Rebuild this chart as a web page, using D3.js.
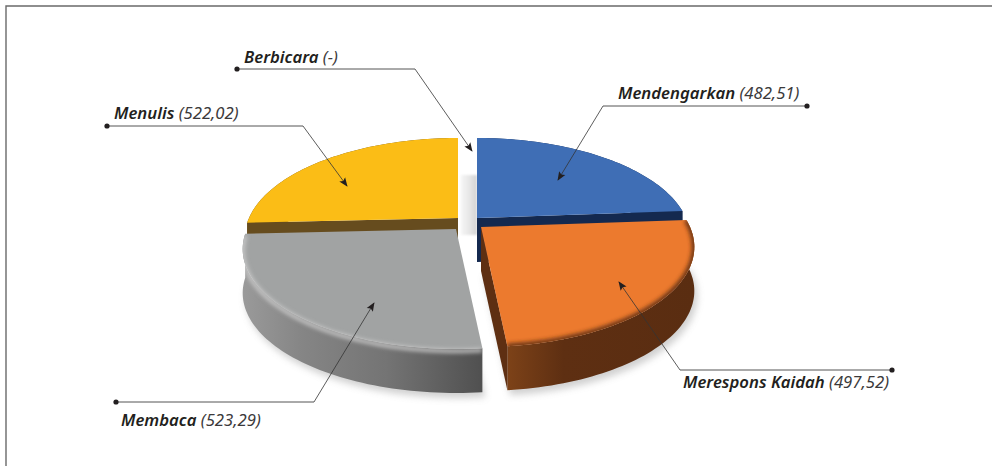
<!DOCTYPE html>
<html>
<head>
<meta charset="utf-8">
<script src="https://cdn.jsdelivr.net/npm/d3@7"></script>
<style>
  html, body { margin: 0; padding: 0; background: #fff; overflow: hidden; }
  text { font-family: "Noto Sans", sans-serif; font-style: italic; font-size: 16.7px; fill: #231f20; }
  .name { font-weight: 600; }
  .val { font-weight: 400; fill: #3c3a3b; }
</style>
</head>
<body>
<svg id="chart" width="992" height="466"></svg>
<script>
const categories = ["Mendengarkan", "Merespons Kaidah", "Membaca", "Menulis", "Berbicara"];
const values = [482.51, 497.52, 523.29, 522.02, 0];
const valueLabels = ["(482,51)", "(497,52)", "(523,29)", "(522,02)", "(-)"];

// look of each slice, same order as categories
const topColors = ["#3f6eb5", "#ec7a2e", "#a1a3a3", "#fbbd16"];
const wallColors = ["#14294f", "#5e2f12", "#6f6f6f", "#664c1e"];
const centers = [[477, 218], [481, 227], [456, 229], [458, 218]];
const drawOrder = [3, 0, 2, 1];

// dot -> elbow -> arrow tip, and where the text starts
const leaders = [
  { pts: [[807, 106], [603, 106], [558, 180]], tx: 618, ty: 99 },
  { pts: [[892, 370], [680, 370], [619, 282]], tx: 683, ty: 388 },
  { pts: [[116, 402], [314, 402], [374, 303]], tx: 121, ty: 426 },
  { pts: [[107, 126], [303, 126], [347, 186]], tx: 114, ty: 119 },
  { pts: [[237, 69], [415, 69], [472, 151]], tx: 244, ty: 63 },
];

const RADIUS = 209, DEPTH = 96, PERSP = 0.2, THICK = 44;

const svg = d3.select("#chart");
const defs = svg.append("defs");

function blur(id, sd) {
  defs.append("filter").attr("id", id)
    .attr("x", "-20%").attr("y", "-20%").attr("width", "140%").attr("height", "140%")
    .append("feGaussianBlur").attr("stdDeviation", sd);
}
blur("blur1", 1.2);
blur("blur2", 2);
blur("blur3", 3.5);

function wallGradient(id, stops) {
  const g = defs.append("linearGradient").attr("id", id);
  stops.forEach(([o, c]) => g.append("stop").attr("offset", o).attr("stop-color", c));
}
wallGradient("wallGrey", [[0, "#9a9a9a"], [0.25, "#858585"], [0.6, "#747474"], [1, "#505050"]]);
wallGradient("wallOrange", [[0, "#7d4218"], [0.3, "#5e2f12"], [1, "#5a2d11"]]);
wallGradient("gapShade", [[0, "#f6f6f6"], [0.6, "#e4e4e4"], [1, "#d2d2d2"]]);

defs.append("marker").attr("id", "arrow")
  .attr("viewBox", "0 0 10 10").attr("refX", 9).attr("refY", 5)
  .attr("markerWidth", 9).attr("markerHeight", 9).attr("markerUnits", "userSpaceOnUse")
  .attr("orient", "auto")
  .append("path").attr("d", "M0,1L10,5L0,9L2,5Z").attr("fill", "#231f20");

// frame: only top and left edge
svg.append("path").attr("d", "M6,466V6H992").attr("fill", "none")
  .attr("stroke", "#6a6a6a").attr("stroke-width", 1.4);

const pie = d3.pie().sort(null).value((d) => d);
const arcs = pie(values);
const uScale = d3.scaleLinear().domain([-1, 1]).range([-RADIUS, RADIUS]);
const vScale = d3.scaleLinear().domain([-1, 1]).range([-DEPTH, DEPTH]);

/** plan position on the disc to screen, with a bit of perspective */
function project(c, a, r = 1, drop = 0) {
  const u = Math.sin(a) * r;
  const v = -Math.cos(a) * r;
  const k = 1 / (1 - PERSP * v);
  return [c[0] + uScale(u) * k, c[1] + vScale(v) * k + drop];
}
function arcPoints(c, a0, a1, drop = 0) {
  const n = Math.max(2, Math.ceil((a1 - a0) * 40));
  return d3.range(n + 1).map((i) => project(c, a0 + ((a1 - a0) * i) / n, 1, drop));
}
const line = d3.line();
const closed = (pts) => line(pts) + "Z";
const cross = (a, b) => a[0] * b[1] - a[1] * b[0];

function faceVisible(c, a, mid) {
  const p = project(c, a);
  const m = project(c, mid);
  const d = [p[0] - c[0], p[1] - c[1]];
  const i = [m[0] - c[0], m[1] - c[1]];
  return cross(d, i) * cross(d, [0, 1]) < 0;
}

// soft shading in the gap at the back
svg.append("rect").attr("x", 461).attr("y", 175).attr("width", 16).attr("height", 60)
  .attr("fill", "url(#gapShade)").attr("filter", "url(#blur1)");

// ground shadow
const shadow = svg.append("g").attr("filter", "url(#blur3)").attr("opacity", 0.4);
[2, 1].forEach((i) => {
  const c = centers[i];
  const a = arcs[i];
  shadow.append("path")
    .attr("d", closed(arcPoints(c, a.startAngle, a.endAngle, THICK).concat([[c[0], c[1] + THICK]])))
    .attr("transform", "translate(3,5)")
    .attr("fill", "#8a8a8a");
});

drawOrder.forEach((i) => {
  const a = arcs[i];
  const c = centers[i];
  const g = svg.append("g").attr("class", "slice");
  const wallFill = i === 2 ? "url(#wallGrey)" : i === 1 ? "url(#wallOrange)" : wallColors[i];

  // outer wall
  const upper = arcPoints(c, a.startAngle, a.endAngle);
  const lower = arcPoints(c, a.startAngle, a.endAngle, THICK).reverse();
  const wallPath = closed(upper.concat(lower));
  g.append("path").attr("d", wallPath).attr("fill", wallFill);

  // cut faces
  const mid = (a.startAngle + a.endAngle) / 2;
  [a.startAngle, a.endAngle].forEach((edge) => {
    if (!faceVisible(c, edge, mid)) return;
    const p = project(c, edge);
    g.append("path")
      .attr("d", closed([c, p, [p[0], p[1] + THICK], [c[0], c[1] + THICK]]))
      .attr("fill", wallColors[i]);
  });

  // top face, the bevel is a blurred stroke clipped to top and wall
  const topPath = closed(upper.concat([c]));
  const clipId = "top" + i;
  const clip = defs.append("clipPath").attr("id", clipId);
  clip.append("path").attr("d", topPath);
  if (i === 2) clip.append("path").attr("d", wallPath);
  g.append("path").attr("d", topPath).attr("fill", topColors[i]);
  if (i === 1 || i === 2) {
    const rim = i === 1 ? upper : arcPoints(c, a.startAngle, a.endAngle, 2);
    g.append("g").attr("clip-path", `url(#${clipId})`)
      .append("path").attr("d", line(rim)).attr("fill", "none")
      .attr("stroke", i === 1 ? "#5e2f12" : "#cfcfcf")
      .attr("stroke-width", i === 1 ? 5 : 3.5)
      .attr("filter", "url(#blur2)");
  }
});

// leaders and labels
leaders.forEach((l, i) => {
  const [dot, elbow, tip] = l.pts;
  svg.append("path").attr("d", line([dot, elbow])).attr("fill", "none")
    .attr("stroke", "#555").attr("stroke-width", 1);
  svg.append("path").attr("d", line([elbow, tip])).attr("fill", "none")
    .attr("stroke", "#333").attr("stroke-width", 0.8).attr("marker-end", "url(#arrow)");
  svg.append("circle").attr("cx", dot[0]).attr("cy", dot[1]).attr("r", 2.6).attr("fill", "#231f20");
  const t = svg.append("text").attr("x", l.tx).attr("y", l.ty);
  t.append("tspan").attr("class", "name").text(categories[i]);
  t.append("tspan").attr("class", "val").text(" " + valueLabels[i]);
});
</script>
</body>
</html>
